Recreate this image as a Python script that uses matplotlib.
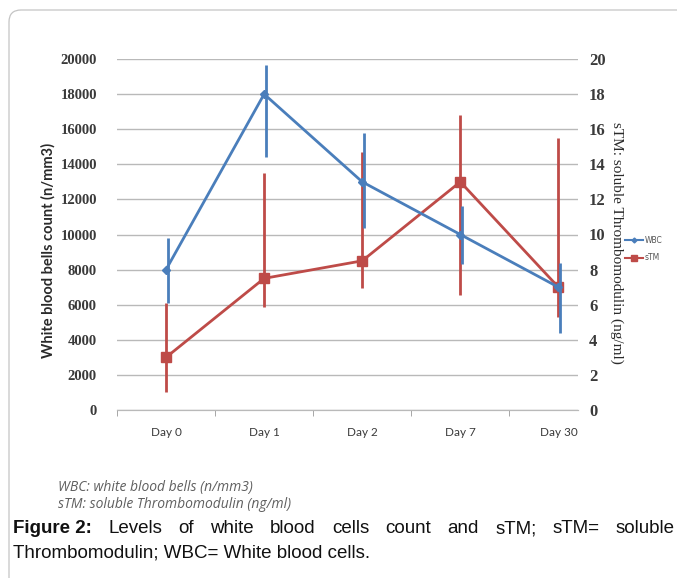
import matplotlib
matplotlib.use("Agg")
import matplotlib.pyplot as plt
from matplotlib.patches import FancyBboxPatch
from matplotlib.lines import Line2D
from matplotlib.transforms import offset_copy

BLUE, RED, GRID, TXT = "#4a7ebb", "#be4b48", "#b9b9b9", "#3a3a3a"

days = ["Day 0", "Day 1", "Day 2", "Day 7", "Day 30"]
wbc = [8000, 18000, 13000, 10000, 7000]
wbc_lo = [1900, 3600, 2650, 1700, 2600]
wbc_hi = [1800, 1650, 2800, 1600, 1350]
stm = [3.0, 7.5, 8.5, 13.0, 7.0]
stm_lo = [2.0, 1.65, 1.55, 6.45, 1.7]
stm_hi = [3.1, 6.0, 6.2, 3.8, 8.5]

W, H = 677, 578
fig = plt.figure(figsize=(W / 100, H / 100), dpi=100)
fig.patch.set_facecolor("white")

# outer frame, rounded top-left corner, runs off the right and bottom edges
fig.add_artist(FancyBboxPatch((0.09, -1.0), 10, 6.68, boxstyle="round,pad=0,rounding_size=0.12",
                              transform=fig.dpi_scale_trans, fc="none", ec="#c4c4c4", lw=0.9))

ax = fig.add_axes([117 / W, 1 - 410 / H, (578 - 117) / W, (410 - 59) / H])
ax2 = ax.twinx()
ax.set_zorder(ax2.get_zorder() + 1)
ax.patch.set_visible(False)

x = list(range(len(days)))

# sTM on the right axis (drawn underneath)
ax2.vlines(x, [s - l for s, l in zip(stm, stm_lo)], [s + h for s, h in zip(stm, stm_hi)],
           color=RED, lw=2.0, zorder=2)
ax2.plot(x, stm, color=RED, lw=2.0, marker="s", ms=6.5, zorder=3)

# WBC on the left axis (on top)
tr = offset_copy(ax.transData, fig=fig, x=1.5, y=0, units="dots")
ax.vlines(x, [w - l for w, l in zip(wbc, wbc_lo)], [w + h for w, h in zip(wbc, wbc_hi)],
          color=BLUE, lw=2.0, transform=tr, zorder=2)
ax.plot(x, wbc, color=BLUE, lw=2.0, marker="D", ms=4, zorder=3)

ax.set_xlim(-0.5, 4.2)
ax.set_ylim(0, 20000)
ax2.set_ylim(0, 20)
ax.set_yticks(range(0, 20001, 2000))
ax2.set_yticks(range(0, 21, 2))
ax2.yaxis.grid(True, color=GRID, lw=1.0)
ax2.set_axisbelow(True)

for a in (ax, ax2):
    for s in ("top", "left", "right"):
        a.spines[s].set_visible(False)
    a.spines["bottom"].set_color(GRID)

ax.set_xticks(x)
ax.set_xticklabels(days, fontsize=8.5, family="Lato", color=TXT)
ax.set_xticks([-0.5, 0.5, 1.5, 2.5, 3.5], minor=True)
ax.tick_params(axis="x", which="major", length=0, pad=12)
ax.tick_params(axis="x", which="minor", length=4, color="#999999", direction="out")
ax.tick_params(axis="y", length=0, pad=14.5, labelsize=10.5, labelcolor=TXT)
ax2.tick_params(axis="y", length=0, pad=8, labelsize=12, labelcolor=TXT)
for lab in ax.get_yticklabels() + ax2.get_yticklabels():
    lab.set_family("Liberation Serif")
    lab.set_fontweight("bold")

fig.text(48 / W, 1 - 250 / H, "White blood bells count (n/mm3)", rotation=90, ha="center", va="center",
         fontsize=10.5, family="Lato", fontweight="bold", color="#2a2a2a")
fig.text(617 / W, 1 - 243 / H, "sTM: soluble Thrombomodulin (ng/ml)", rotation=-90, ha="center",
         va="center", fontsize=11, family="Liberation Serif", color="#2a2a2a")

handles = [Line2D([], [], color=BLUE, lw=1.5, marker="D", ms=2.5),
           Line2D([], [], color=RED, lw=1.5, marker="s", ms=4)]
fig.legend(handles, ["WBC", "sTM"], loc="center left", bbox_to_anchor=(618 / W, 1 - 249 / H),
           frameon=False, fontsize=5.5, handlelength=2.4, handletextpad=0.2, labelspacing=1.1,
           labelcolor="#555555")

fig.text(58 / W, 1 - 491 / H, "WBC: white blood bells (n/mm3)", fontsize=10, style="italic",
         family="Open Sans", color="#606060", va="baseline")
fig.text(58 / W, 1 - 508 / H, "sTM: soluble Thrombomodulin (ng/ml)", fontsize=10, style="italic",
         family="Open Sans", color="#606060", va="baseline")

# justified first caption line, spread to the right edge like the source
words = ["Figure 2:", "Levels", "of", "white", "blood", "cells", "count", "and", "sTM;", "sTM=", "soluble"]
texts = [fig.text(0, 1 - 533 / H, w, fontsize=13.5, family="Liberation Sans",
                  fontweight="bold" if i == 0 else "normal", color="#111111", va="baseline")
         for i, w in enumerate(words)]
r = fig.canvas.get_renderer()
widths = [t.get_window_extent(r).width for t in texts]
left, right = 13, 675
gap = (right - left - sum(widths)) / (len(words) - 1)
px = left
for t, wd in zip(texts, widths):
    t.set_x(px / W)
    px += wd + gap
fig.text(13 / W, 1 - 558 / H, "Thrombomodulin; WBC= White blood cells.", fontsize=13.5,
         family="Liberation Sans", color="#111111", va="baseline")

fig.savefig("out.png", dpi=100)
